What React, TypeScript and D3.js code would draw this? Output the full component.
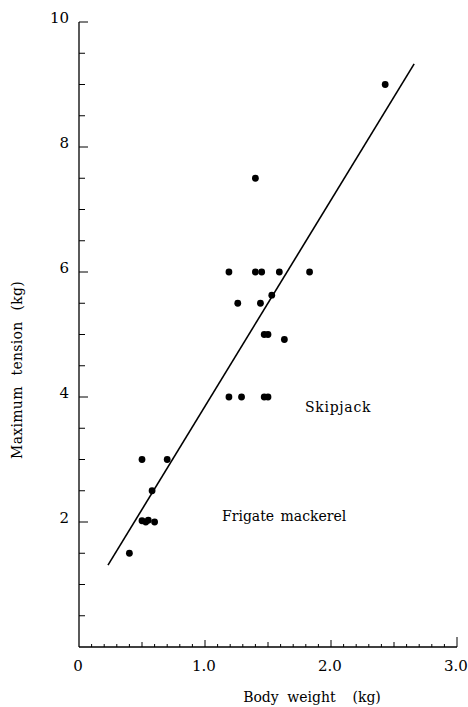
import React, { useRef, useEffect } from "react";
import * as d3 from "d3";

// body weight (kg), maximum tension (kg)
const skipjackWeight = [2.43, 1.40, 1.19, 1.40, 1.45, 1.59, 1.83, 1.26, 1.44, 1.53, 1.47, 1.50, 1.63, 1.19, 1.29, 1.47, 1.50];
const skipjackTension = [9.0, 7.5, 6.0, 6.0, 6.0, 6.0, 6.0, 5.5, 5.5, 5.63, 5.0, 5.0, 4.92, 4.0, 4.0, 4.0, 4.0];
const frigateWeight = [0.50, 0.70, 0.58, 0.50, 0.53, 0.55, 0.60, 0.40];
const frigateTension = [3.0, 3.0, 2.5, 2.02, 2.0, 2.03, 2.0, 1.5];

// regression line end points
const fitX = [0.23, 2.66];
const fitY = [1.31, 9.33];

const yTickLabels = ["2", "4", "6", "8", "10"];
const xTickLabels = ["0", "1.0", "2.0", "3.0"];

const W = 468;
const H = 707;
const font = "\"DejaVu Serif\", serif";

const App = () => {
  const ref = useRef<SVGSVGElement>(null);

  useEffect(() => {
    const svg = d3.select(ref.current);
    svg.selectAll("*").remove();

    const x = d3.scaleLinear([0, 3], [79, 457]);
    const y = d3.scaleLinear([0, 10], [647, 22]);

    // axes lines
    svg.append("line")
      .attr("x1", x(0)).attr("x2", x(0))
      .attr("y1", y(0)).attr("y2", y(10))
      .attr("stroke", "black").attr("stroke-width", 1.3);
    svg.append("line")
      .attr("x1", x(0)).attr("x2", x(3))
      .attr("y1", y(0)).attr("y2", y(0))
      .attr("stroke", "black").attr("stroke-width", 1.3);

    // y ticks every 0.5, long ones on major values
    const yt = d3.range(0.5, 10.01, 0.5);
    svg.append("g").selectAll("line")
      .data(yt)
      .enter()
      .append("line")
      .attr("x1", x(0))
      .attr("x2", d => x(0) + (Math.abs(d % 2) < 0.01 ? 9 : 6))
      .attr("y1", d => y(d))
      .attr("y2", d => y(d))
      .attr("stroke", "black")
      .attr("stroke-width", 1);

    svg.append("g").selectAll("text")
      .data(yTickLabels)
      .enter()
      .append("text")
      .attr("x", 69)
      .attr("y", d => y(+d) + 1)
      .attr("text-anchor", "end")
      .style("font-family", font)
      .style("font-size", "15px")
      .text(d => d);

    // x ticks every 0.1
    const xt = d3.range(1, 31).map(i => i / 10);
    svg.append("g").selectAll("line")
      .data(xt)
      .enter()
      .append("line")
      .attr("x1", d => x(d))
      .attr("x2", d => x(d))
      .attr("y1", y(0))
      .attr("y2", d => {
        const k = Math.round(d * 10);
        if (k % 10 === 0) return y(0) - (k === 30 ? 10 : 7);
        if (k % 5 === 0) return y(0) - 5;
        return y(0) - 3;
      })
      .attr("stroke", "black")
      .attr("stroke-width", 1);

    svg.append("g").selectAll("text")
      .data(xTickLabels)
      .enter()
      .append("text")
      .attr("x", d => x(+d) - 1)
      .attr("y", 671)
      .attr("text-anchor", "middle")
      .style("font-family", font)
      .style("font-size", "15px")
      .text(d => d);

    // regression line
    const line = d3.line<number>()
      .x(i => x(fitX[i]))
      .y(i => y(fitY[i]));
    svg.append("path")
      .attr("fill", "none")
      .attr("stroke", "black")
      .attr("stroke-width", 1.6)
      .attr("d", line(d3.range(fitX.length)));

    // points
    const pts = [
      ...skipjackWeight.map((w, i) => [w, skipjackTension[i]]),
      ...frigateWeight.map((w, i) => [w, frigateTension[i]]),
    ];
    svg.append("g").selectAll("circle")
      .data(pts)
      .enter()
      .append("circle")
      .attr("cx", d => x(d[0]))
      .attr("cy", d => y(d[1]))
      .attr("r", 3.4)
      .attr("fill", "black");

    // species labels
    svg.append("text")
      .attr("x", 305).attr("y", 412)
      .style("font-family", font).style("font-size", "14px")
      .style("letter-spacing", "0.7px")
      .text("Skipjack");
    svg.append("text")
      .attr("x", 222).attr("y", 521)
      .style("font-family", font).style("font-size", "14px")
      .style("word-spacing", "2px")
      .text("Frigate mackerel");

    // axis titles
    svg.append("text")
      .attr("transform", `translate(22,370) rotate(-90)`)
      .attr("text-anchor", "middle")
      .style("font-family", font).style("font-size", "14px")
      .style("letter-spacing", "0.3px").style("word-spacing", "6px")
      .text("Maximum tension (kg)");
    svg.append("text")
      .attr("x", 312).attr("y", 702)
      .attr("text-anchor", "middle")
      .style("font-family", font).style("font-size", "14px")
      .style("word-spacing", "4px")
      .attr("xml:space", "preserve")
      .text("Body weight  (kg)");
  }, []);

  return (
    <div style={{ position: "absolute", left: 0, top: 0, background: "white" }}>
      <svg ref={ref} width={W} height={H}></svg>
    </div>
  );
};

export default App;
